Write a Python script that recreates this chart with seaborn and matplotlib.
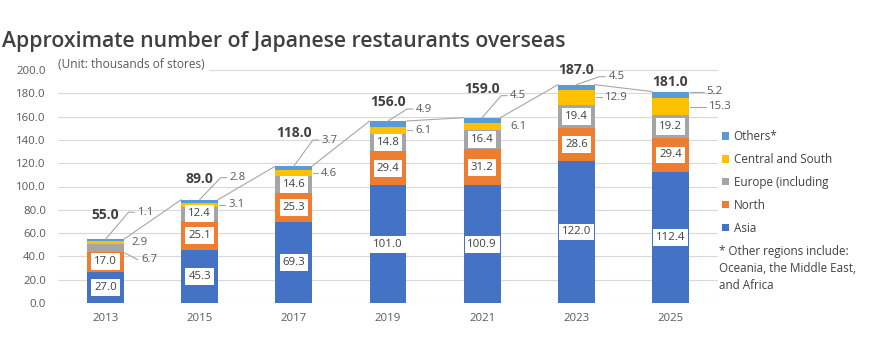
import numpy as np
import pandas as pd
import matplotlib
matplotlib.use("Agg")
import matplotlib.pyplot as plt
import seaborn as sns
from matplotlib.patches import Patch

# ---- data (thousands of stores) ----
years = ["2013", "2015", "2017", "2019", "2021", "2023", "2025"]
asia = [27.0, 45.3, 69.3, 101.0, 100.9, 122.0, 112.4]
north = [17.0, 25.1, 25.3, 29.4, 31.2, 28.6, 29.4]
europe = [6.7, 12.4, 14.6, 14.8, 16.4, 19.4, 19.2]
central = [2.9, 3.1, 4.6, 6.1, 6.1, 12.9, 15.3]
others = [1.1, 2.8, 3.7, 4.9, 4.5, 4.5, 5.2]
totals = [55.0, 89.0, 118.0, 156.0, 159.0, 187.0, 181.0]

region_labels = ["Asia", "North", "Europe (including", "Central and South", "Others*"]
region_colors = ["#4472C4", "#ED7D31", "#A5A5A5", "#FFC000", "#5B9BD5"]
y_ticks = [0, 20, 40, 60, 80, 100, 120, 140, 160, 180, 200]

# ---- layout helpers (pixel offsets for hand-placed labels) ----
total_lift_px = [24, 21, 33, 19, 29, 15, 10]
others_text_px = [(32, 27), (30, 22), (28, 26), (28, 12), (28, 22), (32, 8), (36, 0)]
central_gap_px = [8, 10, 9, 9, 10, 10, 20]
central_leader = [False, True, True, True, False, True, True]

TXT = "#404040"
GRAY = "#595959"
LINE = "#A6A6A6"
FONT = "Open Sans"

sns.set_theme(style="white")
plt.rcParams["font.family"] = [FONT, "DejaVu Sans"]

fig = plt.figure(figsize=(8.86, 3.48), dpi=100)
ax = fig.add_axes([58.4 / 886, 1 - 303 / 348, (717.6 - 58.4) / 886, (303 - 70) / 348])

series = [asia, north, europe, central, others]
df = pd.DataFrame({"year": years})
cum = np.zeros(len(years))
bottoms = []
for name, vals in zip(region_labels, series):
    bottoms.append(cum.copy())
    cum = cum + np.array(vals)
    df[name] = cum.copy()
stack_top = cum

BAR_W = 0.39
# overlay cumulative heights, tallest first, to build the stacks
for name, color in reversed(list(zip(region_labels, region_colors))):
    sns.barplot(data=df, x="year", y=name, color=color, width=BAR_W,
                order=years, ax=ax, saturation=1, edgecolor="none", linewidth=0)

ax.set_xlim(-0.5, len(years) - 0.5)
ax.set_ylim(0, 200)
ax.set_yticks(y_ticks)
ax.set_yticklabels([f"{v:.1f}" for v in y_ticks])
ax.set_xlabel("")
ax.set_ylabel("")
ax.grid(axis="y", color="#D9D9D9", linewidth=0.8)
ax.set_axisbelow(True)
for s in ax.spines.values():
    s.set_visible(False)
ax.tick_params(axis="y", length=0, pad=9, labelsize=8.2, labelcolor=GRAY)
ax.tick_params(axis="x", length=0, pad=7, labelsize=8.2, labelcolor=GRAY)


def px_points(anchor, offsets):
    """Convert pixel offsets (x right, y up) from a data anchor into data coords."""
    base = ax.transData.transform(anchor)
    pts = np.array([base + np.array(o, dtype=float) for o in offsets])
    return ax.transData.inverted().transform(pts)


half_w_px = ax.transData.transform((BAR_W / 2, 0))[0] - ax.transData.transform((0, 0))[0]

# series lines between neighbouring stack tops
for i in range(len(years) - 1):
    ax.plot([i + BAR_W / 2, i + 1 - BAR_W / 2], [stack_top[i], stack_top[i + 1]],
            color=LINE, lw=0.8, zorder=3)

box = dict(boxstyle="square,pad=0.25", fc="white", ec="none")
for i in range(len(years)):
    # Asia / North / Europe values
    for k in range(3):
        v = series[k][i]
        mid = bottoms[k][i] + v / 2
        if v >= 10:
            ax.text(i, mid, f"{v:.1f}", ha="center", va="center", fontsize=8.2,
                    color=TXT, bbox=box, zorder=5)
        else:
            pts = px_points((i + BAR_W / 2, mid), [(1, -5), (14, -12)])
            ax.plot(pts[:, 0], pts[:, 1], color=LINE, lw=0.8, zorder=4)
            tp = px_points((i + BAR_W / 2, mid), [(18, -12)])[0]
            ax.text(tp[0], tp[1], f"{v:.1f}", ha="left", va="center", fontsize=8.2, color=GRAY)

    # Central and South
    v = central[i]
    mid = bottoms[3][i] + v / 2
    gap = central_gap_px[i]
    if central_leader[i]:
        pts = px_points((i + BAR_W / 2, mid), [(1, 0), (gap - 3, 0)])
        ax.plot(pts[:, 0], pts[:, 1], color=LINE, lw=0.8, zorder=4)
    tp = px_points((i + BAR_W / 2, mid), [(gap, 0)])[0]
    ax.text(tp[0], tp[1], f"{v:.1f}", ha="left", va="center", fontsize=8.2, color=GRAY)

    # Others
    v = others[i]
    dx, dy = others_text_px[i]
    start = (0, 0) if dy > 0 else (half_w_px + 1, 0)
    pts = px_points((i, stack_top[i]), [start, (dx - 9, dy), (dx - 3, dy)])
    ax.plot(pts[:, 0], pts[:, 1], color=LINE, lw=0.8, zorder=4)
    tp = px_points((i, stack_top[i]), [(dx, dy)])[0]
    ax.text(tp[0], tp[1], f"{v:.1f}", ha="left", va="center", fontsize=8.2, color=GRAY)

    # totals
    ax.annotate(f"{totals[i]:.1f}", xy=(i, stack_top[i]), xytext=(0, total_lift_px[i]),
                textcoords="offset pixels", ha="center", va="center",
                fontsize=10, fontweight="bold", color=TXT)

# unit note
fig.text(58 / 886, 1 - 64 / 348, "(Unit: thousands of stores)", ha="left", va="center",
         fontsize=8.6, color=GRAY,
         bbox=dict(boxstyle="square,pad=0.35", fc="white", ec="none"))

# title
fig.text(2 / 886, 1 - 47 / 348, "Approximate number of Japanese restaurants overseas",
         ha="left", va="baseline", fontsize=15.3, fontweight="semibold", color=TXT)

# legend
handles = [Patch(facecolor=c, edgecolor="none") for c in region_colors][::-1]
labels = region_labels[::-1]
leg = fig.legend(handles, labels, loc="upper left", bbox_to_anchor=(722 / 886, 1 - 130 / 348),
                 frameon=False, fontsize=8.4, handlelength=0.6, handleheight=0.6,
                 handletextpad=0.4, labelspacing=0.85, borderpad=0, borderaxespad=0)
for t in leg.get_texts():
    t.set_color(TXT)

fig.text(719 / 886, 1 - 245 / 348,
         "* Other regions include:\nOceania, the Middle East,\nand Africa",
         ha="left", va="top", fontsize=8.4, color=TXT, linespacing=1.4)

fig.savefig("out.png", dpi=100, facecolor="white")
